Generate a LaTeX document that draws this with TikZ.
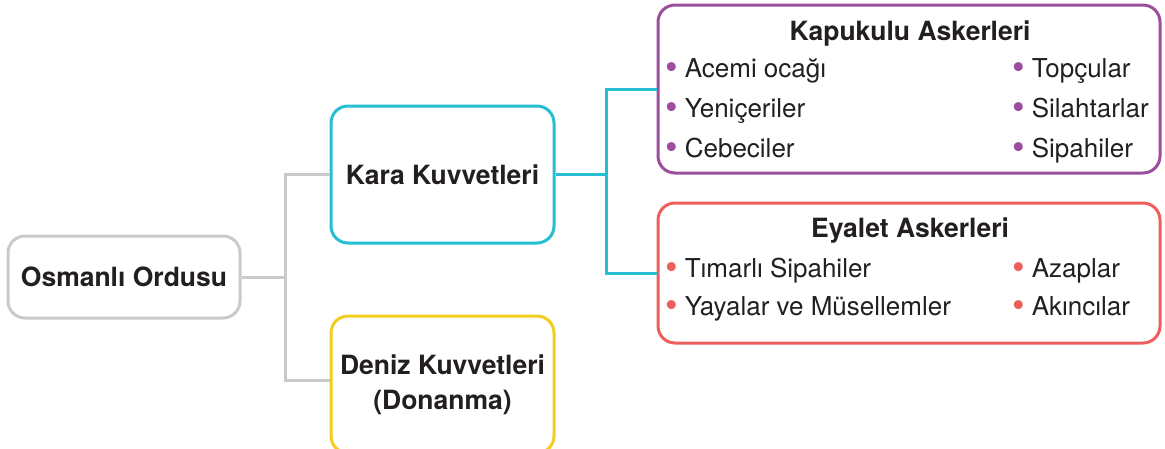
\documentclass[tikz,border=0pt]{standalone}
\usepackage{fontspec}
\setmainfont{TeX Gyre Heros}
\usetikzlibrary{positioning}

\definecolor{textcol}{HTML}{231F20}
\definecolor{graycol}{HTML}{C9CBCB}
\definecolor{tealcol}{HTML}{25BFD1}
\definecolor{yellowcol}{HTML}{F2CD1F}
\definecolor{purplecol}{HTML}{9C4E9E}
\definecolor{redcol}{HTML}{EE5F5B}

\tikzstyle{block} = [rectangle, draw, fill=white, line width=3pt, rounded corners=17pt, text centered, align=center, text=textcol, font=\bfseries\fontsize{26.5}{35}\selectfont]
\tikzstyle{title} = [inner sep=0pt, anchor=base, text=textcol, font=\bfseries\fontsize{26.5}{30}\selectfont]
\tikzstyle{item} = [inner sep=0pt, anchor=base west, text=textcol, font=\fontsize{26}{30}\selectfont]
\tikzstyle{line} = [draw, line width=3pt]

\newcommand{\dotmark}[1]{\textcolor{#1}{\raisebox{-2pt}{\fontsize{36}{30}\selectfont•}}}
\newcommand{\kapuitem}[1]{\dotmark{purplecol}\hspace{0.27em}#1}
\newcommand{\eyaletitem}[1]{\dotmark{redcol}\hspace{0.27em}#1}

\begin{document}
\begin{tikzpicture}[x=1pt, y=-1pt]
    \useasboundingbox (0,0) rectangle (1165,448);
    \clip (0,0) rectangle (1165,448);

    \node[block, draw=graycol, minimum width=232pt, minimum height=82pt] (ordu) at (124,277) {Osmanlı Ordusu};
    \node[block, draw=tealcol, minimum width=223pt, minimum height=137pt] (kara) at (442.5,174.5) {Kara Kuvvetleri};
    \node[block, draw=yellowcol, minimum width=223pt, minimum height=137pt] (deniz) at (442.5,384.5) {Deniz Kuvvetleri\\(Donanma)};
    \node[block, draw=purplecol, minimum width=502pt, minimum height=168pt] (kapu) at (909,89) {};
    \node[block, draw=redcol, minimum width=502pt, minimum height=140pt] (eyalet) at (909,273) {};

    % lines
    \coordinate (jgray) at (285,277);
    \coordinate (jteal) at (606,174.5);
    \draw [line, graycol] (ordu.east) -- (jgray);
    \draw [line, graycol] (kara.west) -| (jgray) |- ([yshift=4pt]deniz.west);
    \draw [line, tealcol] (kara.east) -- (jteal);
    \draw [line, tealcol] (kapu.west) -| (jteal) |- (eyalet.west);

    % kapukulu
    \node[title] (kapuT) at (910,40) {Kapukulu Askerleri};
    \node[item] (kapu1) at (665,77) {\kapuitem{Acemi ocağı}};
    \node[item] (kapu2) at (665,117) {\kapuitem{Yeniçeriler}};
    \node[item] (kapu3) at (665,157) {\kapuitem{Cebeciler}};
    \node[item] (kapu4) at (1012,77) {\kapuitem{Topçular}};
    \node[item] (kapu5) at (1012,117) {\kapuitem{Silahtarlar}};
    \node[item] (kapu6) at (1012,157) {\kapuitem{Sipahiler}};

    % eyalet
    \node[title] (eyaletT) at (910,237) {Eyalet Askerleri};
    \node[item] (eyalet1) at (665,277) {\eyaletitem{Tımarlı Sipahiler}};
    \node[item] (eyalet2) at (665,315) {\eyaletitem{Yayalar ve Müsellemler}};
    \node[item] (eyalet3) at (1012,277) {\eyaletitem{Azaplar}};
    \node[item] (eyalet4) at (1012,315) {\eyaletitem{Akıncılar}};
\end{tikzpicture}
\end{document}
